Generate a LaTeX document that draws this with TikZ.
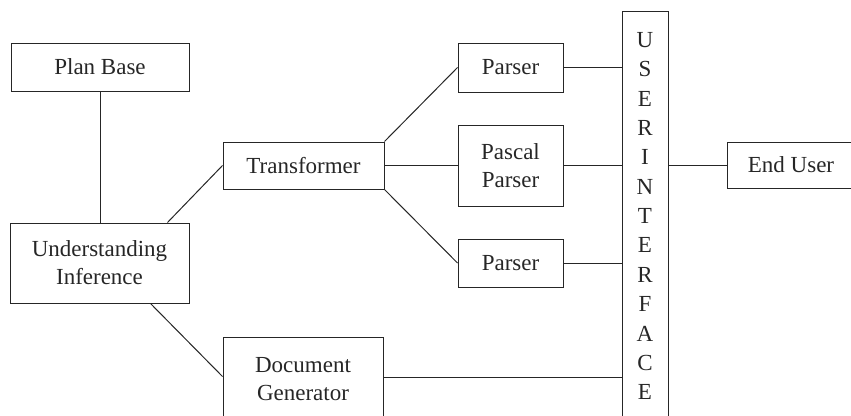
\documentclass[tikz,border=0pt]{standalone}
\usepackage{fontspec}
\setmainfont{Liberation Serif}
\usetikzlibrary{calc}
\newcommand{\boxfont}{\fontsize{23}{28}\selectfont}
\tikzset{
  blk/.style={draw=black!85, line width=1pt, inner sep=0pt, align=center,
              font=\boxfont, text=black!85},
  link/.style={draw=black!85, line width=1pt},
  letter/.style={inner sep=0pt, font=\boxfont, text=black!85}
}
\begin{document}
\begin{tikzpicture}[x=1pt,y=-1pt]
  \useasboundingbox (0,0) rectangle (851,415);
  \clip (0,0) rectangle (851,415);

  % boxes
  \node[blk, minimum width=178pt, minimum height=48pt] (plan)  at (100,67)    {Plan Base};
  \node[blk, minimum width=179pt, minimum height=80pt] (und)   at (99.5,263)  {Understanding\\Inference};
  \node[blk, minimum width=161pt, minimum height=47pt] (trans) at (303.5,165.5) {Transformer};
  \node[blk, minimum width=160pt, minimum height=84pt] (doc)   at (303,379)   {Document\\Generator};
  \node[blk, minimum width=105pt, minimum height=49pt] (p1)    at (510.5,67.5) {Parser};
  \node[blk, minimum width=105pt, minimum height=81pt] (pas)   at (510.5,165.5) {Pascal\\Parser};
  \node[blk, minimum width=105pt, minimum height=48pt] (p3)    at (510.5,263) {Parser};
  \node[blk, minimum width=46pt,  minimum height=414pt] (ui)   at (645,218)   {};
  \node[blk, minimum width=128pt, minimum height=46pt] (enduser) at (791,165) {End User};

  % vertical lettering of the interface bar
  \foreach \l [count=\i] in {U,S,E,R,I,N,T,E,R,F,A,C,E}
    \node[letter] (ui\i) at (645,{40+(\i-1)*29.35}) {\l};

  % connectors
  \draw[link] (plan.south) -- (plan.south |- und.north);
  \draw[link] ($(und.north east)+(-22,0)$) -- (trans.west);
  \coordinate (docin) at ($(doc.north west)+(0,40)$);
  \draw[link] ($(und.south east)+(-39,0)$) -- (docin);
  \draw[link] (trans.north east) -- (p1.west);
  \draw[link] (trans.east) -- (pas.west);
  \draw[link] (trans.south east) -- (p3.west);
  \draw[link] (p1.east) -- (p1.east -| ui.west);
  \draw[link] (pas.east) -- (pas.east -| ui.west);
  \draw[link] (p3.east) -- (p3.east -| ui.west);
  \coordinate (docout) at ($(doc.north east)+(0,41)$);
  \draw[link] (docout) -- (docout -| ui.west);
  \draw[link] (enduser.west -| ui.east) -- (enduser.west);
\end{tikzpicture}
\end{document}
